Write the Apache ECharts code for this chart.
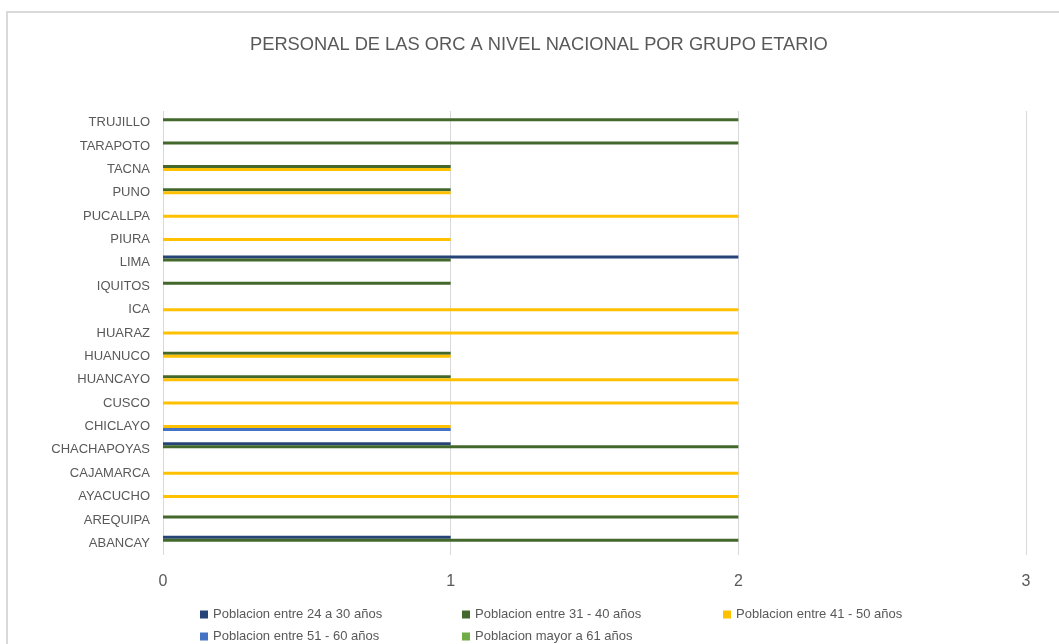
<!DOCTYPE html>
<html>
<head>
<meta charset="utf-8">
<style>
  html, body { margin: 0; padding: 0; background: #fff; }
  #chart { width: 1059px; height: 644px; }
</style>
<script src="https://cdn.jsdelivr.net/npm/echarts@6/dist/echarts.min.js"></script>
</head>
<body>
<div id="chart"></div>
<script>
// ciudades, de abajo hacia arriba como en el grafico
var ciudades = ['ABANCAY', 'AREQUIPA', 'AYACUCHO', 'CAJAMARCA', 'CHACHAPOYAS', 'CHICLAYO', 'CUSCO',
    'HUANCAYO', 'HUANUCO', 'HUARAZ', 'ICA', 'IQUITOS', 'LIMA', 'PIURA', 'PUCALLPA', 'PUNO',
    'TACNA', 'TARAPOTO', 'TRUJILLO'];

var grupos = ['Poblacion entre 24 a 30 años', 'Poblacion entre 31 - 40 años', 'Poblacion entre 41 - 50 años',
    'Poblacion entre 51 - 60 años', 'Poblacion mayor a 61 años'];

var edad24a30 = [1, 0, 0, 0, 1, 0, 0, 0, 0, 0, 0, 0, 2, 0, 0, 0, 0, 0, 0];
var edad31a40 = [2, 2, 0, 0, 2, 0, 0, 1, 1, 0, 0, 1, 1, 0, 0, 1, 1, 2, 2];
var edad41a50 = [0, 0, 2, 2, 0, 1, 2, 2, 1, 2, 2, 0, 0, 1, 2, 1, 1, 0, 0];
var edad51a60 = [0, 0, 0, 0, 0, 1, 0, 0, 0, 0, 0, 0, 0, 0, 0, 0, 0, 0, 0];
var edad61mas = [0, 0, 0, 0, 0, 0, 0, 0, 0, 0, 0, 0, 0, 0, 0, 0, 0, 0, 0];

var ejeX = [0, 1, 2, 3];

var colores = ['#264478', '#43682B', '#FFC000', '#4472C4', '#70AD47'];
var valores = [edad24a30, edad31a40, edad41a50, edad51a60, edad61mas];

var fuente = "'Liberation Sans', Arial, sans-serif";

var chart = echarts.init(document.getElementById('chart'));

var series = grupos.map(function (nombre, i) {
    return {
        name: nombre,
        type: 'bar',
        data: valores[i],
        barWidth: 3,
        barGap: '0%',
        itemStyle: { color: colores[i] },
        animation: false
    };
});

// leyenda en dos filas, tres columnas fijas
var legendPos = [[195, 603], [457, 603], [718, 603], [195, 625], [457, 625]];
var legends = grupos.map(function (nombre, i) {
    return {
        left: legendPos[i][0],
        top: legendPos[i][1],
        data: [nombre],
        itemWidth: 8,
        itemHeight: 8,
        icon: 'rect',
        textStyle: { fontFamily: fuente, fontSize: 13, color: '#595959' }
    };
});

chart.setOption({
    backgroundColor: '#fff',
    title: {
        text: 'PERSONAL DE LAS ORC A NIVEL NACIONAL POR GRUPO ETARIO',
        left: 245,
        top: 31,
        textStyle: { fontFamily: fuente, fontSize: 18.3, fontWeight: 'normal', color: '#595959' }
    },
    graphic: [{
        type: 'rect',
        shape: { x: 7, y: 12, width: 1200, height: 800 },
        style: { fill: 'none', stroke: '#d9d9d9', lineWidth: 2 },
        silent: true
    }],
    legend: legends,
    grid: { left: 163, right: 33, top: 111, bottom: 89, containLabel: false },
    xAxis: {
        type: 'value',
        min: ejeX[0],
        max: ejeX[ejeX.length - 1],
        interval: 1,
        axisLine: { show: false },
        axisTick: { show: false },
        splitLine: { lineStyle: { color: '#d9d9d9', width: 1 } },
        axisLabel: { margin: 19, fontFamily: fuente, fontSize: 16, color: '#595959' }
    },
    yAxis: {
        type: 'category',
        data: ciudades,
        axisLine: { show: false },
        axisTick: { show: false },
        axisLabel: { margin: 13, fontFamily: fuente, fontSize: 13, color: '#595959' }
    },
    series: series
});
</script>
</body>
</html>
